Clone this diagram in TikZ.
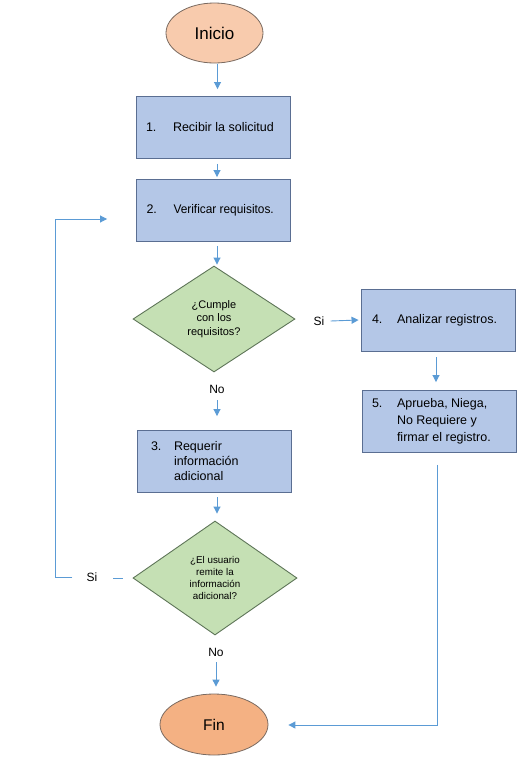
\documentclass[tikz,border=0pt]{standalone}
\usepackage{fontspec}
\setmainfont{Liberation Sans}
\usetikzlibrary{shapes.geometric,arrows.meta}
\definecolor{boxfill}{HTML}{B4C7E7}
\definecolor{boxline}{HTML}{5A6E92}
\definecolor{dfill}{HTML}{C5E0B4}
\definecolor{dline}{HTML}{5E7558}
\definecolor{inifill}{HTML}{F8CBAD}
\definecolor{finfill}{HTML}{F4B183}
\definecolor{eline}{HTML}{7A6A60}
\definecolor{arrc}{HTML}{5B9BD5}
\tikzset{
  stepbox/.style={draw=boxline, line width=0.9pt, fill=boxfill, minimum width=154pt, minimum height=62pt, inner sep=0pt, font=\fontsize{12.5}{16}\selectfont},
  decision/.style={diamond, draw=dline, line width=0.9pt, fill=dfill, inner sep=0pt, align=center, aspect=1.5},
  terminal/.style={ellipse, draw=eline, line width=0.8pt, inner sep=0pt},
  lbl/.style={font=\fontsize{12}{14}\selectfont, inner sep=1pt},
  arr/.style={draw=arrc, line width=0.9pt, -{Triangle[length=7pt,width=7pt]}},
  ln/.style={draw=arrc, line width=0.9pt},
}
\newcommand{\numtext}[4]{\parbox[c]{#3}{\makebox[#4][l]{#1}\parbox[t]{\dimexpr#3-#4}{\raggedright #2}}}
\begin{document}
\begin{tikzpicture}[x=1pt,y=-1pt]
\useasboundingbox (0,0) rectangle (529,780);
% terminals
\node[terminal, fill=inifill, minimum width=97pt, minimum height=60pt, font=\fontsize{17}{19}\selectfont] (inicio) at (214.5,33) {Inicio};
\node[terminal, fill=finfill, minimum width=108pt, minimum height=61pt, font=\fontsize{15.5}{18}\selectfont] (fin) at (214,724.5) {Fin};
% boxes
\node[stepbox] (b1) at (213,127.5) {\numtext{1.}{Recibir la solicitud}{134pt}{27pt}};
\node[stepbox] (b2) at (213.5,210.5) {\numtext{2.}{\addfontfeature{FakeStretch=0.95}Verificar requisitos.}{134pt}{27pt}};
\node[stepbox, font=\fontsize{12.5}{15}\selectfont] (b3) at (214,461.5) {\numtext{3.}{Requerir\\información\\adicional}{126pt}{23pt}};
\node[stepbox] (b4) at (438,320) {\numtext{4.}{Analizar registros.}{132pt}{25pt}};
\node[stepbox, font=\fontsize{12.5}{17}\selectfont] (b5) at (439,421.5) {\numtext{5.}{Aprueba, Niega,\\No Requiere y\\firmar el registro.}{134pt}{25pt}};
% decisions
\node[decision, minimum width=162pt, minimum height=106pt, font=\fontsize{11}{13.5}\selectfont] (d1) at (214,319) {¿Cumple\\con los\\requisitos?};
\node[decision, minimum width=164pt, minimum height=114pt, font=\fontsize{9.8}{11.7}\selectfont] (d2) at (215,578) {¿El usuario\\remite la\\información\\adicional?};
% labels
\node[lbl] (no1) at (217,389) {No};
\node[lbl] (si1) at (319,321) {Si};
\node[lbl] (no2) at (216,652) {No};
\node[lbl] (si2) at (92,577) {Si};
\coordinate (c1) at (55,577);
\coordinate (c2) at (55,219);
\coordinate (c3) at (437,725);
% connectors
\draw[arr] ([xshift=3pt,yshift=-1pt]inicio.south) -- ([xshift=4.5pt,yshift=7pt]b1.north);
\draw[arr] ([xshift=4pt,yshift=-5pt]b1.south) -- ([xshift=3.5pt,yshift=2pt]b2.north);
\draw[arr] ([xshift=3.5pt,yshift=-4pt]b2.south) -- ([xshift=3pt,yshift=1pt]d1.north);
\draw[arr] ([yshift=-6pt]no1.south) -- ([yshift=14pt]no1.south |- b3.north);
\draw[arr] ([xshift=5pt]si1.east) -- ([xshift=-2pt]b4.west);
\draw[arr] ([xshift=-2pt,yshift=-6pt]b4.south) -- ([xshift=-3pt,yshift=8pt]b5.north);
\draw[arr] ([xshift=3pt,yshift=-4.5pt]b3.south) -- ([xshift=2pt,yshift=7pt]d2.north);
\draw[arr] ([yshift=-5pt]no2.south) -- ([yshift=7pt]no2.south |- fin.north);
\draw[ln] ([xshift=-10pt]d2.west) -- ([xshift=-20pt]d2.west);
\draw[arr] ([xshift=-13pt]si2.west) -- (c1) -- (c2) -- ([xshift=-29pt]b2.west |- c2);
\draw[arr] ([xshift=-2pt,yshift=-12pt]b5.south) -- (c3) -- ([xshift=20pt]fin.east |- c3);
\end{tikzpicture}
\end{document}
